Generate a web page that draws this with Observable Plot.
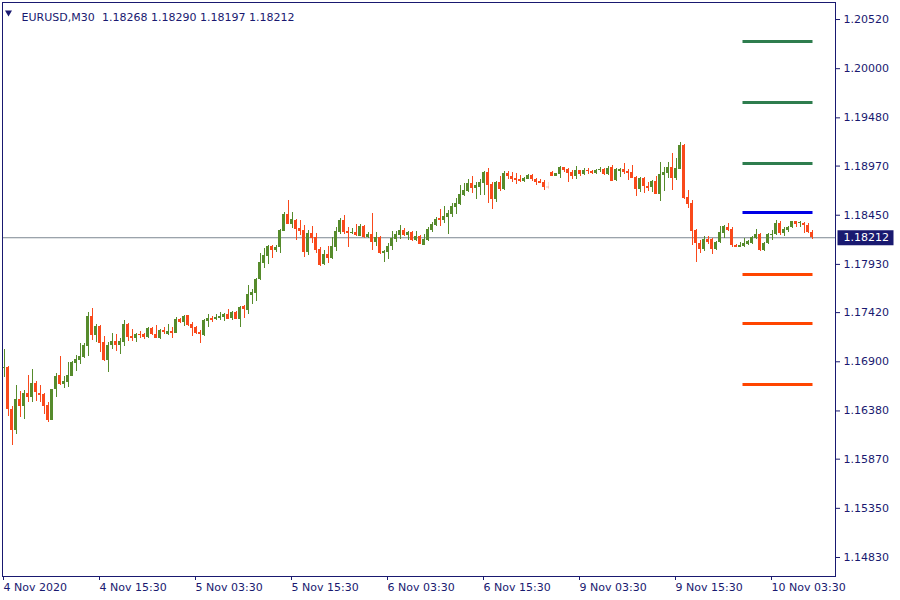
<!DOCTYPE html>
<html>
<head>
<meta charset="utf-8">
<script src="https://cdn.jsdelivr.net/npm/d3@7"></script>
<script src="https://cdn.jsdelivr.net/npm/@observablehq/plot@0.6"></script>
<style>
  html, body { margin: 0; padding: 0; background: #ffffff; }
  #chart svg { display: block; }
</style>
</head>
<body>
<div id="chart"></div>
<script>
// ---------- data (EURUSD, M30) ----------
const symbol = "EURUSD,M30";

const opens = [
1.16825,1.16843,1.16395,1.16177,1.16501,1.16431,1.16565,1.16526,1.16670,1.16565,
1.16554,1.16438,1.16283,1.16603,1.16751,1.16663,1.16684,1.16748,1.16885,1.16914,
1.16949,1.17065,1.17382,1.17181,1.17273,1.17104,1.16914,1.17072,1.17114,1.17072,
1.17107,1.17294,1.17167,1.17143,1.17192,1.17192,1.17153,1.17256,1.17189,1.17150,
1.17235,1.17186,1.17221,1.17203,1.17348,1.17320,1.17387,1.17291,1.17263,1.17214,
1.17179,1.17330,1.17358,1.17344,1.17362,1.17373,1.17401,1.17358,1.17422,1.17351,
1.17489,1.17443,1.17602,1.17626,1.17767,1.17944,1.18018,1.18120,1.18078,1.18106,
1.18282,1.18458,1.18356,1.18398,1.18314,1.18289,1.18060,1.18261,1.18215,1.18088,
1.17929,1.18035,1.17993,1.18113,1.18271,1.18398,1.18278,1.18257,1.18268,1.18225,
1.18331,1.18211,1.18246,1.18165,1.18211,1.18046,1.18060,1.18120,1.18197,1.18236,
1.18289,1.18236,1.18271,1.18183,1.18222,1.18134,1.18183,1.18289,1.18342,1.18416,
1.18395,1.18430,1.18462,1.18536,1.18567,1.18659,1.18701,1.18789,1.18736,1.18747,
1.18789,1.18906,1.18779,1.18617,1.18796,1.18722,1.18895,1.18863,1.18839,1.18828,
1.18807,1.18828,1.18870,1.18825,1.18807,1.18793,1.18750,1.18905,1.18863,1.18884,
1.18955,1.18934,1.18905,1.18863,1.18920,1.18884,1.18920,1.18916,1.18895,1.18920,
1.18934,1.18877,1.18955,1.18817,1.18916,1.18937,1.18916,1.18905,1.18849,1.18726,
1.18838,1.18757,1.18740,1.18807,1.18673,1.18870,1.18895,1.18955,1.18835,1.18937,
1.19187,1.18634,1.18574,1.18289,1.18148,1.18088,1.18190,1.18190,1.18088,1.18159,
1.18261,1.18324,1.18300,1.18130,1.18113,1.18120,1.18145,1.18148,1.18201,1.18247,
1.18078,1.18148,1.18240,1.18243,1.18367,1.18254,1.18289,1.18317,1.18384,1.18363,
1.18367,1.18345,1.18268
];
const highs = [
1.17030,1.16854,1.16427,1.16649,1.16589,1.16600,1.16755,1.16818,1.16691,1.16649,
1.16568,1.16473,1.16607,1.16780,1.16956,1.16744,1.16892,1.16906,1.16966,1.17097,
1.17097,1.17425,1.17467,1.17291,1.17280,1.17171,1.17100,1.17203,1.17192,1.17150,
1.17336,1.17301,1.17241,1.17199,1.17220,1.17203,1.17266,1.17267,1.17284,1.17239,
1.17267,1.17291,1.17263,1.17373,1.17362,1.17387,1.17394,1.17320,1.17270,1.17232,
1.17344,1.17401,1.17380,1.17397,1.17418,1.17408,1.17454,1.17432,1.17429,1.17489,
1.17496,1.17707,1.17665,1.17781,1.18042,1.18099,1.18127,1.18130,1.18130,1.18303,
1.18483,1.18606,1.18479,1.18405,1.18391,1.18342,1.18289,1.18328,1.18261,1.18106,
1.18078,1.18120,1.18219,1.18324,1.18412,1.18448,1.18324,1.18306,1.18352,1.18352,
1.18338,1.18268,1.18469,1.18271,1.18225,1.18074,1.18148,1.18278,1.18278,1.18342,
1.18310,1.18278,1.18282,1.18278,1.18232,1.18246,1.18324,1.18373,1.18430,1.18507,
1.18543,1.18500,1.18578,1.18624,1.18765,1.18782,1.18825,1.18860,1.18793,1.18825,
1.18916,1.18944,1.18796,1.18810,1.18860,1.18909,1.18913,1.18906,1.18888,1.18867,
1.18853,1.18884,1.18877,1.18835,1.18832,1.18821,1.18796,1.18916,1.18895,1.18965,
1.18958,1.18941,1.18923,1.18965,1.18927,1.18948,1.18948,1.18923,1.18934,1.18955,
1.18948,1.18965,1.18979,1.18941,1.18948,1.19001,1.18937,1.18979,1.18863,1.18853,
1.18853,1.18800,1.18817,1.18860,1.19008,1.18951,1.19008,1.19103,1.19050,1.19219,
1.19194,1.18712,1.18606,1.18296,1.18183,1.18226,1.18226,1.18208,1.18176,1.18331,
1.18342,1.18367,1.18317,1.18141,1.18166,1.18208,1.18183,1.18226,1.18296,1.18261,
1.18166,1.18254,1.18289,1.18395,1.18381,1.18324,1.18335,1.18388,1.18388,1.18388,
1.18377,1.18367,1.18290
];
const lows = [
1.16737,1.16325,1.16018,1.16131,1.16311,1.16293,1.16473,1.16473,1.16483,1.16473,
1.16346,1.16261,1.16283,1.16526,1.16653,1.16617,1.16632,1.16744,1.16801,1.16875,
1.16938,1.16959,1.17125,1.17107,1.17002,1.16899,1.16790,1.17026,1.17012,1.16973,
1.17062,1.17118,1.17118,1.17100,1.17143,1.17136,1.17146,1.17175,1.17143,1.17140,
1.17189,1.17179,1.17150,1.17196,1.17302,1.17277,1.17277,1.17172,1.17189,1.17098,
1.17172,1.17267,1.17320,1.17337,1.17337,1.17330,1.17344,1.17337,1.17344,1.17263,
1.17362,1.17401,1.17506,1.17538,1.17760,1.17891,1.17929,1.17989,1.18060,1.18049,
1.18275,1.18349,1.18314,1.18183,1.18240,1.18007,1.18025,1.18155,1.18049,1.17908,
1.17922,1.17937,1.17986,1.18070,1.18243,1.18243,1.18106,1.18250,1.18229,1.18222,
1.18204,1.18204,1.18077,1.18120,1.18035,1.17954,1.17986,1.18077,1.18165,1.18197,
1.18229,1.18183,1.18176,1.18176,1.18141,1.18127,1.18176,1.18271,1.18331,1.18331,
1.18359,1.18246,1.18423,1.18458,1.18553,1.18652,1.18694,1.18680,1.18617,1.18659,
1.18659,1.18574,1.18511,1.18588,1.18705,1.18712,1.18825,1.18796,1.18775,1.18796,
1.18796,1.18825,1.18810,1.18765,1.18782,1.18712,1.18719,1.18856,1.18856,1.18842,
1.18898,1.18800,1.18828,1.18828,1.18863,1.18867,1.18884,1.18877,1.18884,1.18905,
1.18870,1.18870,1.18803,1.18810,1.18853,1.18881,1.18817,1.18835,1.18652,1.18690,
1.18676,1.18704,1.18694,1.18666,1.18599,1.18704,1.18842,1.18712,1.18817,1.18930,
1.18616,1.18521,1.18130,1.17954,1.18042,1.18070,1.18137,1.18032,1.18078,1.18148,
1.18201,1.18278,1.18113,1.18106,1.18106,1.18106,1.18130,1.18141,1.18194,1.18070,
1.18070,1.18141,1.18183,1.18233,1.18240,1.18229,1.18271,1.18307,1.18324,1.18324,
1.18254,1.18254,1.18197
];
const closes = [
1.16843,1.16392,1.16177,1.16501,1.16431,1.16565,1.16526,1.16670,1.16579,1.16547,
1.16431,1.16283,1.16607,1.16744,1.16663,1.16691,1.16755,1.16892,1.16924,1.16956,
1.17072,1.17379,1.17181,1.17273,1.17097,1.16917,1.17072,1.17114,1.17072,1.17114,
1.17294,1.17153,1.17143,1.17192,1.17174,1.17153,1.17252,1.17186,1.17150,1.17232,
1.17214,1.17221,1.17203,1.17344,1.17316,1.17380,1.17284,1.17256,1.17200,1.17186,
1.17337,1.17358,1.17341,1.17373,1.17376,1.17401,1.17351,1.17422,1.17351,1.17478,
1.17454,1.17612,1.17633,1.17774,1.17951,1.18025,1.18120,1.18081,1.18113,1.18289,
1.18458,1.18356,1.18405,1.18300,1.18278,1.18056,1.18261,1.18208,1.18078,1.17919,
1.18035,1.17993,1.18120,1.18278,1.18398,1.18271,1.18261,1.18268,1.18236,1.18331,
1.18211,1.18246,1.18165,1.18211,1.18049,1.18067,1.18120,1.18208,1.18246,1.18289,
1.18236,1.18268,1.18183,1.18222,1.18144,1.18194,1.18296,1.18352,1.18402,1.18395,
1.18437,1.18472,1.18543,1.18578,1.18669,1.18712,1.18789,1.18736,1.18765,1.18796,
1.18906,1.18765,1.18617,1.18796,1.18722,1.18892,1.18860,1.18825,1.18818,1.18807,
1.18835,1.18874,1.18825,1.18796,1.18789,1.18747,1.18733,1.18863,1.18888,1.18958,
1.18920,1.18895,1.18863,1.18923,1.18884,1.18923,1.18909,1.18891,1.18923,1.18934,
1.18877,1.18948,1.18810,1.18934,1.18937,1.18905,1.18895,1.18842,1.18726,1.18838,
1.18754,1.18736,1.18807,1.18673,1.18881,1.18905,1.18955,1.18835,1.18944,1.19191,
1.18627,1.18567,1.18281,1.18148,1.18085,1.18190,1.18166,1.18085,1.18162,1.18268,
1.18331,1.18289,1.18127,1.18113,1.18130,1.18148,1.18173,1.18211,1.18247,1.18078,
1.18155,1.18243,1.18250,1.18367,1.18254,1.18300,1.18324,1.18384,1.18352,1.18374,
1.18338,1.18271,1.18212
];
// candle 136: last bar before the weekend, drawn faint on the reference
const faintBars = [136];

// time-axis ticks (bar index -> label)
const xTickIndex  = [0, 24, 48, 72, 96, 120, 144, 168, 192];
const xTickLabels = ["4 Nov 2020", "4 Nov 15:30", "5 Nov 03:30", "5 Nov 15:30", "6 Nov 03:30",
                     "6 Nov 15:30", "9 Nov 03:30", "9 Nov 15:30", "10 Nov 03:30"];
// price-axis ticks
const yTicks = [1.20520, 1.20000, 1.19480, 1.18970, 1.18450, 1.17930,
                1.17420, 1.16900, 1.16380, 1.15870, 1.15350, 1.14830];

// horizontal levels drawn at the right end
const levelPrices = [1.20287, 1.19642, 1.18997, 1.18479, 1.17823, 1.17305, 1.16660];
const levelKinds  = ["up", "up", "up", "pivot", "down", "down", "down"];
const levelFromBar = 185, levelToBar = 202;

// ---------- styling ----------
const navy = "#191970";
const bullColor = "#568b2c";
const bearColor = "#f9491b";
const levelColor = {up: "#2e7d4e", pivot: "#0000e6", down: "#ff4500"};
const PIX = (1.207 - 1.14629) / 574;   // price per pixel, for minimum body size

const candles = opens.map((o, i) => {
  const c = closes[i];
  let lo = Math.min(o, c), hi = Math.max(o, c);
  if (hi - lo < PIX) { const m = (hi + lo) / 2; lo = m - PIX / 2; hi = m + PIX / 2; }
  return {i, o, h: highs[i], l: lows[i], c, b1: lo, b2: hi,
          color: c >= o ? bullColor : bearColor,
          op: faintBars.includes(i) ? 0.18 : 1};
});
const levels = levelPrices.map((p, k) => ({p, kind: levelKinds[k]}));
const last = candles[candles.length - 1];
const fmt = d3.format(".5f");

const chart = Plot.plot({
  width: 900,
  height: 600,
  marginLeft: 2,
  marginRight: 65,
  marginTop: 2,
  marginBottom: 24,
  style: {fontFamily: "'DejaVu Sans', Verdana, sans-serif", fontSize: "11px", color: navy, background: "#ffffff"},
  x: {type: "linear", domain: [-0.375, 207.875], label: null},
  y: {type: "linear", domain: [1.14629, 1.20700], label: null},
  marks: [
    // current price line
    Plot.ruleY([last.c], {stroke: "#7d8791", strokeWidth: 1}),
    // levels
    Plot.ruleY(levels, {y: "p", x1: levelFromBar - 0.25, x2: levelToBar + 0.25,
                        stroke: d => levelColor[d.kind], strokeWidth: 3}),
    // wicks
    Plot.ruleX(candles, {x: "i", y1: "l", y2: "h", stroke: "color", strokeWidth: 1,
                         strokeOpacity: "op", shapeRendering: "crispEdges"}),
    // bodies
    Plot.rect(candles, {x1: d => d.i - 0.375, x2: d => d.i + 0.375, y1: "b1", y2: "b2",
                        fill: "color", fillOpacity: "op", shapeRendering: "crispEdges"}),
    Plot.frame({stroke: navy}),
    Plot.axisY(yTicks, {anchor: "right", tickSize: 4, tickPadding: 4, tickFormat: fmt,
                        label: null, stroke: navy, fill: navy}),
    Plot.axisX(xTickIndex, {anchor: "bottom", tickSize: 4, tickPadding: 3,
                            tickFormat: d => xTickLabels[xTickIndex.indexOf(d)], label: null,
                            textAnchor: "start", dx: -0.5, stroke: navy, fill: navy}),
    // header
    Plot.dot([0], {frameAnchor: "top-left", dx: 6, dy: 10, symbol: "triangle", rotate: 180,
                   r: 2.6, fill: navy, stroke: "none"}),
    Plot.text([symbol], {frameAnchor: "top-left", dx: 19, dy: 11, textAnchor: "start",
                         fill: navy, text: d => d}),
    Plot.text([last], {frameAnchor: "top-left", dx: 99.5, dy: 11, textAnchor: "start", fill: navy,
                       text: d => [d.o, d.h, d.l, d.c].map(fmt).join(" ")}),
    // current price label
    Plot.text([last], {y: "c", frameAnchor: "right", dx: 8, textAnchor: "start",
                       fill: "white", text: d => fmt(d.c)})
  ]
});

document.getElementById("chart").appendChild(chart);

// navy box behind the current price label
const svgEl = chart.tagName.toLowerCase() === "svg" ? chart : chart.querySelector("svg");
d3.select(svgEl).selectAll("g[fill='white'] text").each(function () {
  const bb = this.getBBox();
  const t = this.getAttribute("transform");
  const r = d3.select(this.parentNode).insert("rect", "text")
    .attr("x", bb.x - 6).attr("y", bb.y + bb.height / 2 - 7.5)
    .attr("width", 56).attr("height", 15)
    .attr("fill", navy);
  if (t) r.attr("transform", t);
});
</script>
</body>
</html>
